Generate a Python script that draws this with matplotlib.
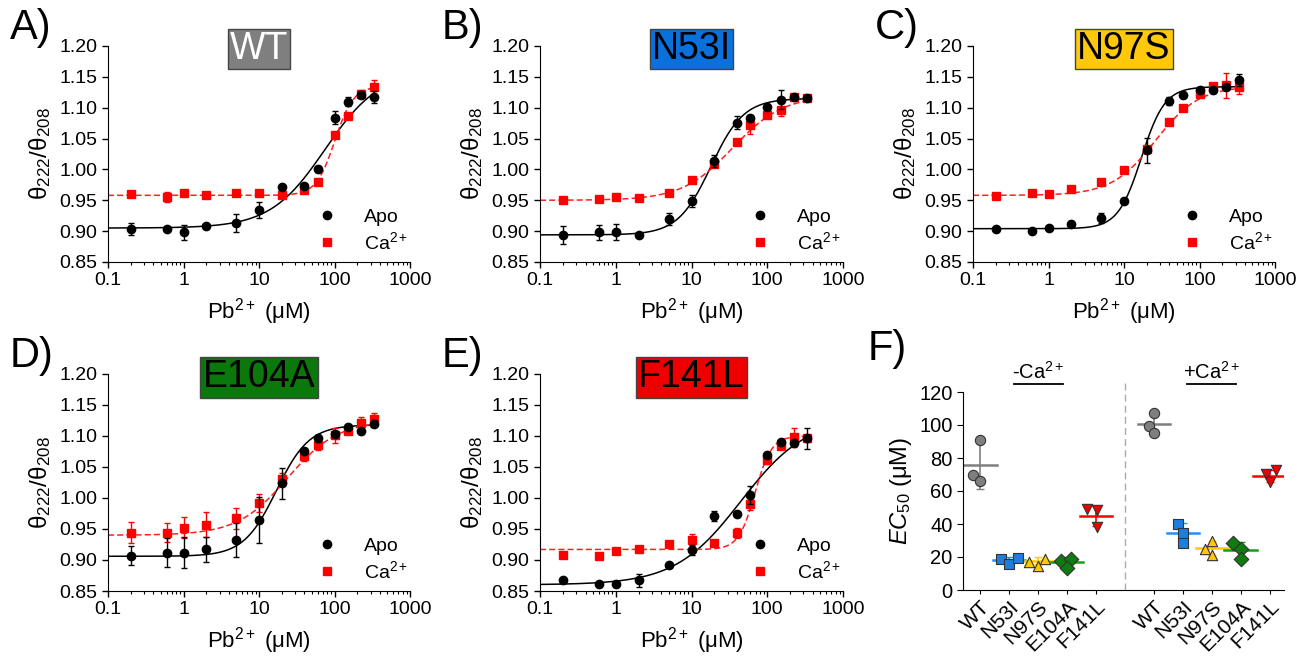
import numpy as np
import matplotlib
matplotlib.use('Agg')
import matplotlib.pyplot as plt
from matplotlib.lines import Line2D

plt.rcParams['font.family'] = ['Liberation Sans', 'DejaVu Sans']
plt.rcParams['mathtext.fontset'] = 'custom'
plt.rcParams['mathtext.rm'] = 'Liberation Sans'
plt.rcParams['mathtext.it'] = 'Liberation Sans:italic'

# Pb2+ concentrations (uM)
conc = [0.2, 0.6, 1, 2, 5, 10, 20, 40, 60, 100, 150, 225, 330]

# panel A - WT
wt_apo = [0.904, 0.903, 0.898, 0.908, 0.913, 0.935, 0.971, 0.973, 1.001, 1.084, 1.110, 1.121, 1.117]
wt_apo_err = [0.010, 0.003, 0.012, 0.003, 0.015, 0.013, 0.003, 0.004, 0.005, 0.010, 0.008, 0.006, 0.010]
wt_ca = [0.960, 0.956, 0.961, 0.958, 0.962, 0.961, 0.958, 0.967, 0.980, 1.056, 1.086, 1.123, 1.133]
wt_ca_err = [0.003, 0.008, 0.003, 0.003, 0.004, 0.004, 0.003, 0.004, 0.003, 0.004, 0.004, 0.006, 0.012]

# panel B - N53I
n53_apo = [0.894, 0.898, 0.898, 0.893, 0.920, 0.949, 1.014, 1.076, 1.084, 1.101, 1.113, 1.118, 1.116]
n53_apo_err = [0.015, 0.012, 0.013, 0.003, 0.010, 0.010, 0.010, 0.010, 0.004, 0.004, 0.015, 0.003, 0.003]
n53_ca = [0.951, 0.952, 0.955, 0.954, 0.961, 0.983, 1.009, 1.045, 1.072, 1.088, 1.097, 1.118, 1.116]
n53_ca_err = [0.004, 0.003, 0.003, 0.004, 0.004, 0.004, 0.004, 0.003, 0.015, 0.004, 0.010, 0.003, 0.003]

# panel C - N97S
n97_apo = [0.904, 0.900, 0.905, 0.912, 0.921, 0.949, 1.031, 1.111, 1.120, 1.129, 1.128, 1.133, 1.145]
n97_apo_err = [0.003, 0.003, 0.003, 0.003, 0.008, 0.004, 0.020, 0.007, 0.003, 0.004, 0.004, 0.005, 0.010]
n97_ca = [0.957, 0.961, 0.960, 0.968, 0.979, 0.999, 1.033, 1.077, 1.100, 1.123, 1.135, 1.136, 1.133]
n97_ca_err = [0.003, 0.003, 0.003, 0.003, 0.003, 0.003, 0.004, 0.005, 0.003, 0.005, 0.004, 0.020, 0.010]

# panel D - E104A
e104_apo = [0.907, 0.912, 0.912, 0.917, 0.932, 0.964, 1.024, 1.076, 1.096, 1.103, 1.114, 1.108, 1.120]
e104_apo_err = [0.015, 0.023, 0.025, 0.020, 0.027, 0.037, 0.025, 0.004, 0.005, 0.004, 0.003, 0.004, 0.006]
e104_ca = [0.944, 0.944, 0.952, 0.957, 0.967, 0.992, 1.031, 1.068, 1.085, 1.101, 1.108, 1.121, 1.127]
e104_ca_err = [0.017, 0.015, 0.017, 0.020, 0.017, 0.015, 0.010, 0.008, 0.008, 0.012, 0.004, 0.010, 0.010]

# panel E - F141L
f141_apo = [0.867, 0.862, 0.862, 0.867, 0.892, 0.916, 0.971, 0.975, 1.005, 1.070, 1.090, 1.089, 1.096]
f141_apo_err = [0.004, 0.003, 0.004, 0.010, 0.003, 0.008, 0.008, 0.003, 0.015, 0.004, 0.003, 0.004, 0.017]
f141_ca = [0.908, 0.907, 0.915, 0.918, 0.926, 0.932, 0.928, 0.944, 0.991, 1.061, 1.084, 1.098, 1.096]
f141_ca_err = [0.003, 0.003, 0.003, 0.005, 0.005, 0.010, 0.004, 0.008, 0.010, 0.006, 0.004, 0.015, 0.006]

# Hill fit parameters: bottom, top, EC50, n
fit_apo = {'WT': (0.905, 1.16, 75, 1.2), 'N53I': (0.894, 1.115, 18, 2.0),
           'N97S': (0.904, 1.134, 17, 2.8), 'E104A': (0.906, 1.118, 17, 2.0),
           'F141L': (0.860, 1.13, 45, 1.0)}
fit_ca = {'WT': (0.958, 1.135, 101, 3.5), 'N53I': (0.950, 1.12, 35, 1.3),
          'N97S': (0.958, 1.135, 26, 1.5), 'E104A': (0.940, 1.125, 24, 1.3),
          'F141L': (0.917, 1.10, 69, 4.0)}

# panel F - EC50 values (uM)
groups = ['WT', 'N53I', 'N97S', 'E104A', 'F141L']
ec50_apo = [[70, 66, 91], [18.6, 15.8, 19.2], [16.8, 14.6, 18.8], [17.8, 18.8, 13.2], [49, 48.6, 38]]
ec50_ca = [[99.6, 107.3, 95.1], [40.1, 34.8, 28.3], [24.9, 29.4, 21.3], [28.7, 24.7, 18.8], [70.4, 72.5, 65.2]]
mean_apo = [75.5, 18.2, 17.8, 16.8, 45.0]
sd_apo = [14.3, 1.5, 2.1, 3.0, 6.0]
mean_ca = [100.8, 34.8, 25.5, 24.3, 69.2]
sd_ca = [6.2, 5.9, 4.1, 5.0, 3.7]
jit_apo = [[-0.25, 0, 0], [-0.3, 0, 0.3], [-0.31, 0, 0.25], [-0.2, 0.12, 0], [-0.32, 0.02, 0.02]]
jit_ca = [[-0.16, 0, 0], [-0.15, 0, 0], [-0.23, 0, 0], [-0.25, 0, 0], [-0.13, 0.22, 0.01]]

box_col = {'WT': '#7f7f7f', 'N53I': '#0a70dc', 'N97S': '#ffc80a', 'E104A': '#0a780a', 'F141L': '#ee0000'}
txt_col = {'WT': 'white', 'N53I': 'black', 'N97S': 'black', 'E104A': 'black', 'F141L': 'black'}
grp_col = ['#7f7f7f', '#1c7fe0', '#ffc800', '#0e7c0e', '#ee0000']
grp_line = ['#7f7f7f', '#1e90ff', '#ffc800', '#15a015', '#ff0000']
grp_mark = ['o', 's', '^', 'D', 'v']


def hill(x, b, t, ec, n):
    return b + (t - b) / (1 + (ec / x) ** n)


fig = plt.figure(figsize=(13.09, 6.61), dpi=100)

W, H = 1309, 661


def px_axes(l, t, r, b):
    return fig.add_axes([l / W, 1 - b / H, (r - l) / W, (b - t) / H])


panels = [
    ('A)', 'WT', wt_apo, wt_apo_err, wt_ca, wt_ca_err, (108, 46, 410, 262)),
    ('B)', 'N53I', n53_apo, n53_apo_err, n53_ca, n53_ca_err, (540, 46, 843, 262)),
    ('C)', 'N97S', n97_apo, n97_apo_err, n97_ca, n97_ca_err, (973, 46, 1275, 262)),
    ('D)', 'E104A', e104_apo, e104_apo_err, e104_ca, e104_ca_err, (108, 374, 410, 591)),
    ('E)', 'F141L', f141_apo, f141_apo_err, f141_ca, f141_ca_err, (540, 374, 843, 591)),
]

xfit = np.logspace(-1, np.log10(330), 300)

for lab, name, apo, apo_e, ca, ca_e, box in panels:
    ax = px_axes(*box)
    ax.set_xscale('log')
    ax.plot(xfit, hill(xfit, *fit_apo[name]), color='black', lw=1.1, zorder=2)
    ax.plot(xfit, hill(xfit, *fit_ca[name]), color='#ff2020', lw=1.1, ls=(0, (4, 2)), zorder=2)
    ax.errorbar(conc, ca, yerr=ca_e, fmt='s', color='#ff0000', ms=5.5, elinewidth=1,
                capsize=2.5, zorder=3)
    ax.errorbar(conc, apo, yerr=apo_e, fmt='o', color='black', ms=6, elinewidth=1,
                capsize=2.5, zorder=4)
    ax.set_xlim(0.1, 1000)
    ax.set_ylim(0.85, 1.20)
    ax.set_yticks(np.arange(0.85, 1.201, 0.05))
    ax.yaxis.set_major_formatter(plt.FormatStrFormatter('%.2f'))
    ax.set_xticks([0.1, 1, 10, 100, 1000])
    ax.set_xticklabels(['0.1', '1', '10', '100', '1000'])
    for s in ['top', 'right']:
        ax.spines[s].set_visible(False)
    ax.tick_params(labelsize=14, direction='out', length=4, width=1)
    ax.tick_params(which='minor', length=2.5, width=0.8)
    ax.set_xlabel('Pb$^{2+}$ (μM)', fontsize=16, labelpad=5)
    ax.set_ylabel('θ$_{222}$/θ$_{208}$', fontsize=17.5, labelpad=5)
    ax.text(0.5, 0.985, name, transform=ax.transAxes, ha='center', va='center',
            fontsize=27, color=txt_col[name], zorder=10,
            bbox=dict(boxstyle='square,pad=0.06', fc=box_col[name], ec='#444444', lw=1))
    h = [Line2D([], [], ls='none', marker='o', color='black', ms=6),
         Line2D([], [], ls='none', marker='s', color='#ff0000', ms=5.5)]
    ax.legend(h, ['Apo', 'Ca$^{2+}$'], loc='lower right', bbox_to_anchor=(1.04, -0.02),
              frameon=False, fontsize=14, handletextpad=0.9, labelspacing=0.25,
              borderpad=0.2)
    fig.text((box[0] - 98) / W, 1 - (box[1] - 18) / H, lab, fontsize=30,
             ha='left', va='center')

# panel F
axf = px_axes(963, 392, 1284, 590)
for k in range(5):
    for side, vals, jit, means, sds in [(0, ec50_apo, jit_apo, mean_apo, sd_apo),
                                         (6, ec50_ca, jit_ca, mean_ca, sd_ca)]:
        xc = side + k
        axf.errorbar([xc], [means[k]], yerr=[sds[k]], fmt='none', ecolor=grp_line[k],
                     elinewidth=1.2, capsize=3, zorder=2)
        axf.plot([xc - 0.56, xc + 0.56], [means[k], means[k]], color=grp_line[k], lw=1.8,
                 zorder=2)
        axf.scatter(np.array(jit[k]) + xc, vals[k], marker=grp_mark[k], s=55,
                    c=grp_col[k], edgecolors='#333333', linewidths=0.8, zorder=3)

axf.plot([5, 5], [0, 127], color='#aaaaaa', lw=1, ls=(0, (5, 3)), clip_on=False)
axf.set_xlim(-0.6, 10.5)
axf.set_ylim(0, 120)
axf.set_yticks(range(0, 121, 20))
axf.set_xticks([0, 1, 2, 3, 4, 6, 7, 8, 9, 10])
axf.set_xticklabels(groups + groups, rotation=45, ha='right', rotation_mode='anchor')
for s in ['top', 'right']:
    axf.spines[s].set_visible(False)
axf.tick_params(axis='y', labelsize=14.5, direction='out', length=4)
axf.tick_params(axis='x', labelsize=15, direction='out', length=3, pad=2)
axf.set_ylabel(r'$\mathit{EC}_{\mathrm{50}}$ (μM)', fontsize=17, labelpad=4)
for xc, txt in [(2, '-Ca$^{2+}$'), (8, '+Ca$^{2+}$')]:
    axf.annotate(txt, xy=(xc, 1.0), xycoords=('data', 'axes fraction'),
                 xytext=(0, 6.5), textcoords='offset points', ha='center', va='bottom',
                 fontsize=14.5)
    axf.plot([xc - 0.85, xc + 0.85], [125, 125], color='black', lw=1.3, clip_on=False)
fig.text((963 - 95) / W, 1 - 349 / H, 'F)', fontsize=30, ha='left', va='center')

fig.savefig('out.png', dpi=100)
